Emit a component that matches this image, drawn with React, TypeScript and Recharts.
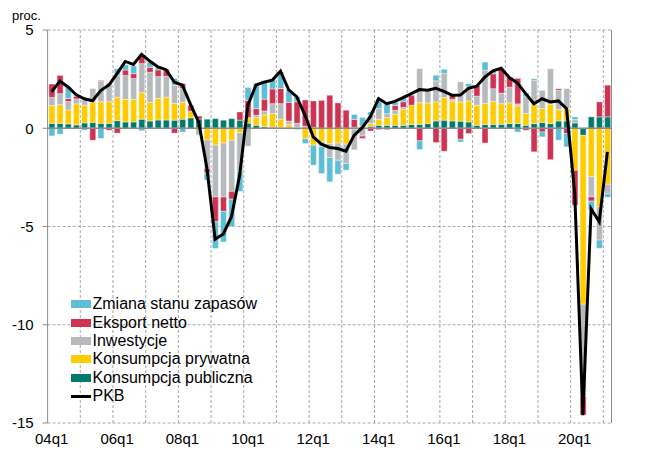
import { ComposedChart, Bar, Line, XAxis, YAxis, CartesianGrid, ReferenceLine } from "recharts";

const quarters = [
  "04q1", "04q2", "04q3", "04q4", "05q1", "05q2", "05q3", "05q4",
  "06q1", "06q2", "06q3", "06q4", "07q1", "07q2", "07q3", "07q4",
  "08q1", "08q2", "08q3", "08q4", "09q1", "09q2", "09q3", "09q4",
  "10q1", "10q2", "10q3", "10q4", "11q1", "11q2", "11q3", "11q4",
  "12q1", "12q2", "12q3", "12q4", "13q1", "13q2", "13q3", "13q4",
  "14q1", "14q2", "14q3", "14q4", "15q1", "15q2", "15q3", "15q4",
  "16q1", "16q2", "16q3", "16q4", "17q1", "17q2", "17q3", "17q4",
  "18q1", "18q2", "18q3", "18q4", "19q1", "19q2", "19q3", "19q4",
  "20q1", "20q2", "20q3", "20q4", "21q1",
];

// wkłady do wzrostu PKB (pkt proc.)
const publiczna = [
  0.25, 0.25, 0.22, 0.17, 0.27, 0.3, 0.25, 0.25,
  0.39, 0.32, 0.32, 0.46, 0.37, 0.42, 0.42, 0.41,
  0.46, 0.53, 0.47, 0.46, 0.49, 0.41, 0.49, 0.41,
  0.26, 0.15, 0.08, 0.05, 0.05, 0.05, -0.05, 0.0,
  0.05, 0.0, 0.0, 0.0, 0.0, 0.05, 0.05, 0.1,
  0.15, 0.15, 0.15, 0.15, 0.19, 0.2, 0.24, 0.37,
  0.41, 0.37, 0.36, 0.32, 0.15, 0.19, 0.2, 0.2,
  0.24, 0.24, 0.15, 0.24, 0.3, 0.24, 0.37, 0.37,
  0.27, -0.36, 0.58, 0.58, 0.58,
];
const prywatna = [
  0.9, 0.95, 0.71, 1.07, 0.9, 1.02, 1.1, 1.1,
  1.19, 1.15, 1.15, 1.35, 0.95, 1.1, 1.16, 0.85,
  0.86, 0.34, 0.0, -0.6, -0.86, -0.75, -0.61, -0.22,
  0.28, 0.39, 0.6, 0.7, 0.41, 0.15, 0.05, -0.53,
  -0.86, -0.69, -0.78, -0.75, -0.81, -0.05, 0.05, 0.14,
  0.31, 0.39, 0.56, 0.81, 0.98, 1.1, 1.05, 0.97,
  1.15, 1.02, 0.98, 1.07, 1.02, 1.07, 1.17, 1.05,
  1.05, 0.9, 0.6, 0.98, 0.7, 0.98, 0.58, 0.63,
  -2.14, -8.59, -2.47, -4.0, -2.85,
];
const inwestycje = [
  0.42, 0.56, 0.43, 0.25, 0.29, 0.7, 1.03, 0.95,
  1.12, 1.22, 1.06, 1.48, 1.53, 1.11, 1.06, 0.93,
  0.7, 0.0, -0.35, -1.45, -2.63, -2.75, -2.6, -2.0,
  -0.91, 0.12, 0.2, 0.5, 0.79, 0.17, 0.2, 0.1,
  0.0, -0.25, -0.71, -0.88, -0.98, -1.05, -0.4, 0.42,
  0.54, 0.2, 0.2, 0.1, 0.0, 1.73, 0.61, 1.07,
  1.22, 0.08, 1.02, 0.71, 0.46, 1.69, 0.64, 0.54,
  0.8, 0.1, 0.85, 1.22, 0.93, 1.81, 0.98, 1.02,
  0.17, -4.71, -1.02, -1.69, -0.47,
];
const eksport = [
  0.68, 0.93, 0.15, 0.14, 0.0, -0.61, 0.05, -0.1,
  -0.25, 0.27, 0.25, 0.42, 0.25, 0.34, 0.36, -0.25,
  0.25, 0.3, 0.15, -0.22, -1.27, -0.73, -0.4, 0.42,
  0.88, 0.34, 0.6, 0.75, 0.77, 0.95, 1.1, 1.34,
  1.34, 1.42, 1.68, 1.29, 0.92, 0.4, -0.12, -0.14,
  -0.07, -0.07, 0.25, 0.29, 0.51, -0.64, 0.0, -0.73,
  -1.17, 0.2, -0.56, -0.27, 0.56, -0.75, 0.76, 1.24,
  0.5, 1.3, -0.1, -1.2, -0.19, -1.6, 0.08, -0.27,
  -1.78, -0.93, -0.22, 0.76, 1.61,
];
const zapasy = [
  -0.39, -0.3, 0.59, 0.05, -0.1, 0.0, -0.52, 0.0,
  0.33, 0.27, 0.39, -0.13, 0.27, 0.1, 0.0, 0.34,
  -0.2, 0.0, 0.0, -0.37, -1.36, -1.56, -1.4, -1.0,
  0.66, 1.27, 0.95, 0.5, 0.84, 0.62, 0.25, -0.25,
  -1.02, -1.36, -1.24, -0.71, -0.34, 0.25, 0.45, 0.17,
  0.5, 0.5, 0.17, 0.2, 0.0, -0.44, 0.0, 0.29,
  0.22, 0.0, -0.14, 0.17, 0.0, 0.42, 0.17, 0.0,
  0.0, -0.2, 0.2, 0.08, -0.25, 0.0, -0.61, -0.68,
  0.14, 0.0, -0.45, -0.42, -0.2,
];
const pkb = [
  1.85, 2.4, 2.1, 1.7, 1.5, 1.4, 1.92, 2.2,
  2.78, 3.4, 3.25, 3.76, 3.42, 3.12, 2.98, 2.35,
  2.19, 1.2, 0.3, -2.05, -5.65, -5.38, -4.5, -2.4,
  1.17, 2.2, 2.35, 2.45, 2.9, 1.95, 1.6, 0.66,
  -0.44, -0.81, -0.98, -1.03, -1.17, -0.36, 0.03, 0.6,
  1.51, 1.25, 1.37, 1.56, 1.76, 1.97, 1.93, 2.03,
  1.88, 1.68, 1.69, 2.03, 2.14, 2.6, 2.92, 3.05,
  2.58, 2.3, 1.76, 1.25, 1.5, 1.34, 1.39, 1.0,
  -3.3, -14.6, -4.1, -4.76, -1.2,
];

const yTicks = [-15, -10, -5, 0, 5];

const data = quarters.map((q, i) => ({
  q,
  publiczna: publiczna[i],
  prywatna: prywatna[i],
  inwestycje: inwestycje[i],
  eksport: eksport[i],
  zapasy: zapasy[i],
  pkb: pkb[i],
}));

const TEAL = "#007a6c";
const YELLOW = "#ffcc00";
const GRAY = "#b7babd";
const RED = "#cf3354";
const BLUE = "#5ebed5";
const AXIS = "#8c8c8c";

const legendItems = [
  { name: "Zmiana stanu zapasów", color: BLUE },
  { name: "Eksport netto", color: RED },
  { name: "Inwestycje", color: GRAY },
  { name: "Konsumpcja prywatna", color: YELLOW },
  { name: "Konsumpcja publiczna", color: TEAL },
  { name: "PKB", color: "#000", line: true },
];

// linie siatki na granicach lat (przed każdym q1)
const yearLines = ({ offset }: any) => {
  const step = offset.width / quarters.length;
  return quarters
    .map((q, i) => (i > 0 && q.endsWith("q1") ? offset.left + i * step : null))
    .filter((x) => x !== null);
};

const tickStyle = { fill: "#000", fontSize: 15 };

export default function App() {
  return (
    <div
      style={{
        position: "absolute",
        left: 0,
        top: 0,
        width: 658,
        height: 450,
        background: "#fff",
        overflow: "hidden",
        fontFamily: "'Liberation Sans', Arial, sans-serif",
      }}
    >
      <ComposedChart
        width={658}
        height={450}
        data={data}
        stackOffset="sign"
        barCategoryGap="16%"
        margin={{ top: 30, right: 6.5, bottom: 0, left: 0 }}
      >
        <CartesianGrid
          yAxisId="left"
          stroke="#a8a8a8"
          strokeDasharray="3 2"
          verticalCoordinatesGenerator={yearLines}
        />
        <XAxis
          dataKey="q"
          interval={7}
          height={27}
          tickLine={false}
          axisLine={false}
          tickSize={5}
          tickMargin={5}
          tick={tickStyle}
        />
        <YAxis
          yAxisId="left"
          domain={[-15, 5]}
          ticks={yTicks}
          interval={0}
          width={47.6}
          tickSize={5}
          tickMargin={9}
          axisLine={{ stroke: AXIS }}
          tickLine={{ stroke: AXIS }}
          tick={tickStyle}
        />
        <YAxis
          yAxisId="right"
          orientation="right"
          domain={[-15, 5]}
          ticks={yTicks}
          interval={0}
          width={40}
          tickSize={5}
          tickMargin={9}
          axisLine={{ stroke: AXIS }}
          tickLine={{ stroke: AXIS }}
          tick={tickStyle}
        />
        <Bar yAxisId="left" dataKey="publiczna" stackId="s" fill={TEAL} stroke="#fff" strokeWidth={0.4} isAnimationActive={false} />
        <Bar yAxisId="left" dataKey="prywatna" stackId="s" fill={YELLOW} stroke="#fff" strokeWidth={0.4} isAnimationActive={false} />
        <Bar yAxisId="left" dataKey="inwestycje" stackId="s" fill={GRAY} stroke="#fff" strokeWidth={0.4} isAnimationActive={false} />
        <Bar yAxisId="left" dataKey="eksport" stackId="s" fill={RED} stroke="#fff" strokeWidth={0.4} isAnimationActive={false} />
        <Bar yAxisId="left" dataKey="zapasy" stackId="s" fill={BLUE} stroke="#fff" strokeWidth={0.4} isAnimationActive={false} />
        <ReferenceLine yAxisId="left" y={0} stroke={AXIS} strokeWidth={1.3} />
        <Line
          yAxisId="left"
          dataKey="pkb"
          type="linear"
          stroke="#000"
          strokeWidth={3}
          dot={false}
          activeDot={false}
          isAnimationActive={false}
        />
      </ComposedChart>

      <div style={{ position: "absolute", left: 12, top: 8, fontSize: 13, color: "#000" }}>proc.</div>

      <div style={{ position: "absolute", left: 71, top: 295 }}>
        {legendItems.map((item) => (
          <div key={item.name} style={{ display: "flex", alignItems: "center", height: 18.4 }}>
            <div
              style={{
                width: 20,
                height: item.line ? 3 : 8,
                background: item.color,
                marginRight: 1.5,
              }}
            />
            <span style={{ fontSize: 16, color: "#000", whiteSpace: "nowrap" }}>{item.name}</span>
          </div>
        ))}
      </div>
    </div>
  );
}
